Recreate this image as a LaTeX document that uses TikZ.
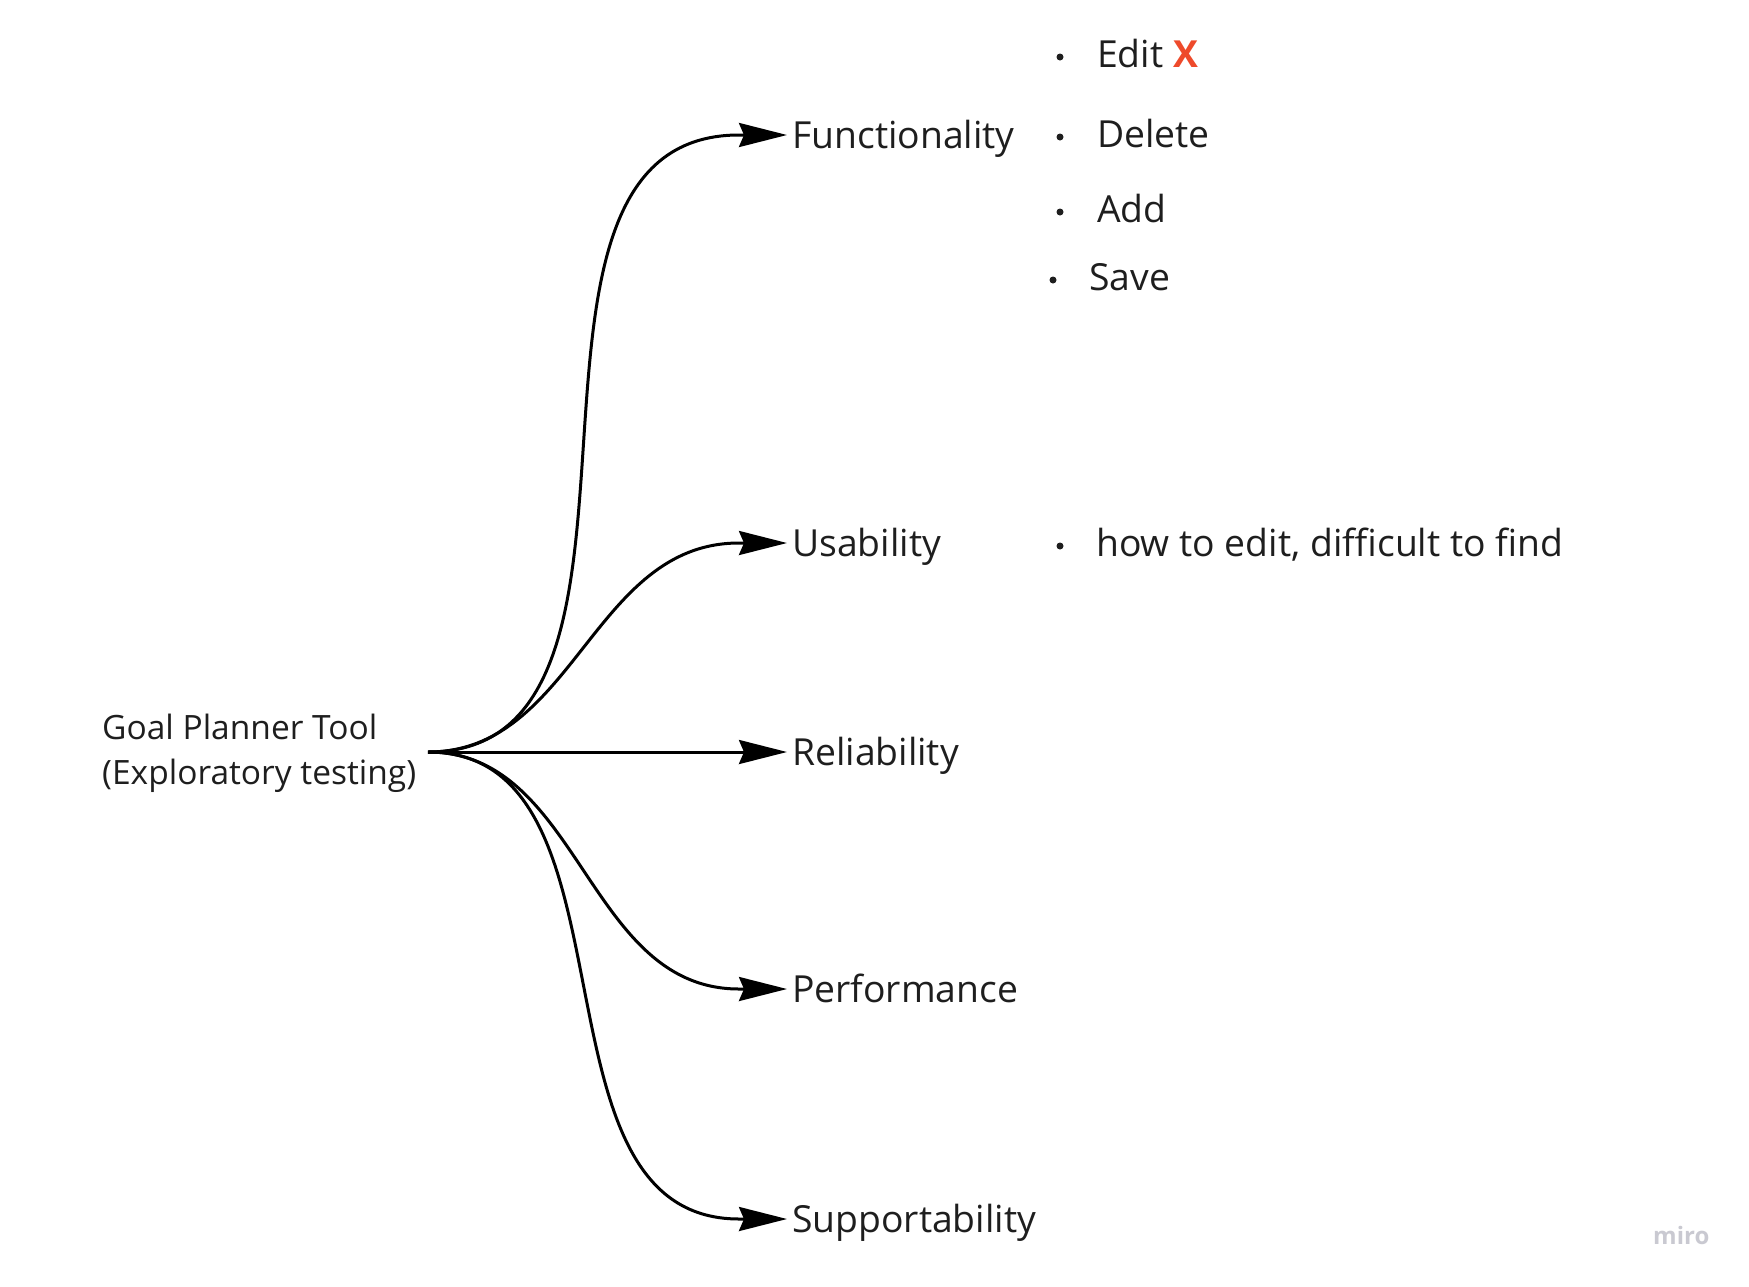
\documentclass[tikz,border=0pt]{standalone}
\usepackage{fontspec}
\setmainfont{Open Sans}
\usetikzlibrary{arrows.meta}
\definecolor{txt}{HTML}{1E1E1E}
\definecolor{xred}{HTML}{EE4A2B}
\definecolor{logo}{HTML}{C9C9D1}
\begin{document}
\begin{tikzpicture}[x=1pt,y=-1pt,
  conn/.style={line width=3pt, draw=black, -{Stealth[length=48pt,width=24pt,inset=5pt]}},
  branch/.style={anchor=west, inner xsep=5pt, inner ysep=0pt, text height=26.6pt, text depth=0pt,
    font=\fontsize{37.3}{44}\selectfont, text=txt},
  item/.style={anchor=base west, inner sep=0pt, font=\fontsize{37.3}{44}\selectfont, text=txt},
  bul/.style={circle, fill=txt, inner sep=0pt, minimum size=7pt},
]
\useasboundingbox (0,0) rectangle (1749,1286);

% root
\node[anchor=base west, align=left, inner sep=0pt, font=\fontsize{33.5}{45}\selectfont, text=txt]
  (root) at (102,784) {Goal Planner Tool\\(Exploratory testing)};
\coordinate (src) at (428,752);

% branches
\node[branch] (fun) at (787,135) {Functionality};
\node[branch] (usa) at (787,543) {Usability};
\node[branch] (rel) at (787,752) {Reliability};
\node[branch] (per) at (787,989) {Performance};
\node[branch] (sup) at (787,1219) {Supportability};

\draw[conn] (src) to[out=0,in=180] ([xshift=-48pt]fun.west) -- (fun.west);
\draw[conn] (src) to[out=0,in=180] ([xshift=-48pt]usa.west) -- (usa.west);
\draw[conn] (src) -- (rel.west);
\draw[conn] (src) to[out=0,in=180] ([xshift=-48pt]per.west) -- (per.west);
\draw[conn] (src) to[out=0,in=180] ([xshift=-48pt]sup.west) -- (sup.west);

% functionality list
\node[bul] (b1) at (1060,57) {};
\node[item] (edit) at (1097,67) {Edit \textcolor{xred}{\textbf{X}}};
\node[bul] (b2) at (1060,137) {};
\node[item] (del) at (1097,147) {Delete};
\node[bul] (b3) at (1060,212) {};
\node[item] (add) at (1097,222) {Add};
\node[bul] (b4) at (1053,280) {};
\node[item] (save) at (1089,290) {Save};

% usability list
\node[bul] (b5) at (1060,546) {};
\node[item] (how) at (1096,556) {how to edit, difficult to find};

% watermark
\node[anchor=base west, inner sep=0pt, font=\fontsize{24}{24}\selectfont\bfseries, text=logo]
  (miro) at (1653,1244) {miro};
\end{tikzpicture}
\end{document}
